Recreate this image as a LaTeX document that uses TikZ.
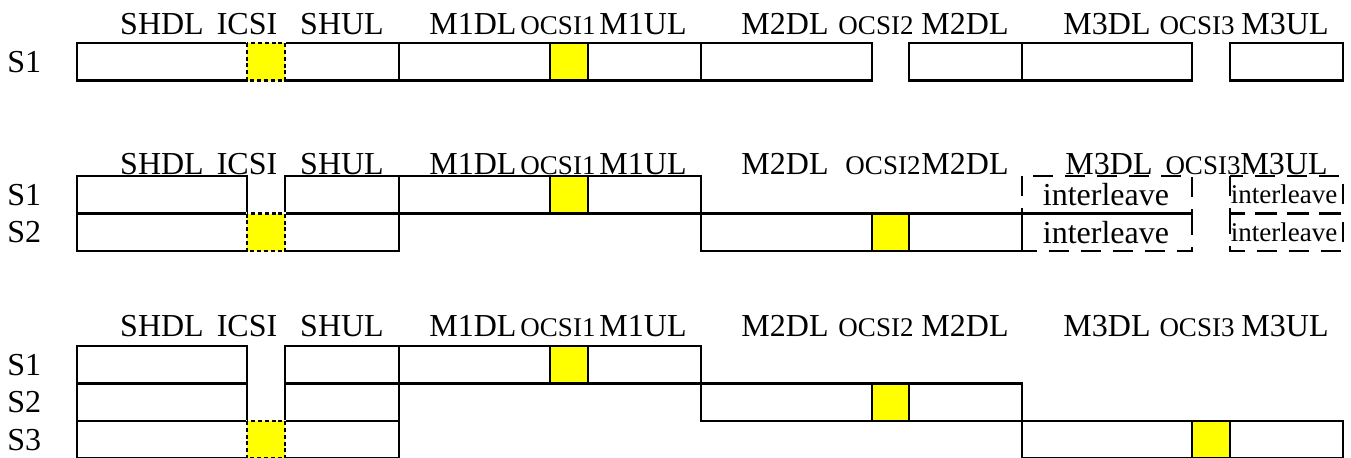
\documentclass[tikz,border=0pt]{standalone}
\usepackage{fontspec}
\setmainfont{Liberation Serif}
\usepackage{tikz}
\usetikzlibrary{math}
\definecolor{CsiYellow}{RGB}{255,255,0}
\tikzset{%
  slot box/.style={draw=black, line width=1.05pt},
  csi box/.style={slot box, fill=CsiYellow},
  icsi box/.style={csi box, line width=1.4pt, dash pattern=on 2pt off 1.4pt,
    preaction={draw=white, solid, line width=1.4pt}},
  ilv box/.style={draw=black, line width=1.05pt, dash pattern=on 10pt off 6pt},
  big text/.style={font=\fontsize{16}{19}\selectfont, inner sep=0pt},
  small text/.style={font=\fontsize{13.5}{16}\selectfont, inner sep=0pt}
}

\begin{document}
\begin{tikzpicture}[x=0.5pt,y=-0.5pt]
    \tikzmath{
      \h=37.5; % row height
      \ya=43; \yb=176; \yc=346; % tops of the three blocks
      \ta=34; \tb=174; \tc=336; % baselines of the headers
    }
    \useasboundingbox (0,0) rectangle (1351,457);
    % headers of blocks one and three
    \foreach \r/\t in {A/\ta, C/\tc} {
      \foreach \s/\x [count=\i] in {SHDL/162, ICSI/247, SHUL/342, M1DL/473, M1UL/643,
          M2DL/785, M2DL/965, M3DL/1107, M3UL/1285} {
        \node[big text, anchor=base] (head\r\i) at (\x,\t) {\s};
      }
      \foreach \s/\x [count=\i] in {OCSI1/558, OCSI2/876, OCSI3/1197} {
        \node[small text, anchor=base] (ocsi\r\i) at (\x,\t) {\s};
      }
    }
    % header of block two
    \foreach \s/\x [count=\i] in {SHDL/162, ICSI/247, SHUL/342, M1DL/473, M1UL/643,
        M2DL/785, M2DL/965, M3DL/1109, M3UL/1284} {
      \node[big text, anchor=base] (headB\i) at (\x,\tb) {\s};
    }
    \foreach \s/\x [count=\i] in {OCSI1/558, OCSI2/883, OCSI3/1203} {
      \node[small text, anchor=base] (ocsiB\i) at (\x,\tb) {\s};
    }

    % block one: a single slot
    \node[big text, anchor=west] (sA1) at (7,\ya+\h/2) {S1};
    \foreach \a/\b in {77/247, 285/399, 399/550, 588/701, 701/872, 909/1022,
        1022/1192, 1230/1343} {
      \draw[slot box] (\a,\ya) rectangle (\b,\ya+\h);
    }
    \draw[csi box] (550,\ya) rectangle (588,\ya+\h);
    \draw[icsi box] (247,\ya) rectangle (285,\ya+\h);

    % block two: two slots
    \foreach \n in {1,2} {
      \node[big text, anchor=west] (sB\n) at (7,\yb+\n*\h-\h/2) {S\n};
    }
    \foreach \a/\b in {77/247, 285/399, 399/550, 588/701} {
      \draw[slot box] (\a,\yb) rectangle (\b,\yb+\h);
    }
    \foreach \a/\b in {77/247, 285/399, 701/872, 909/1022} {
      \draw[slot box] (\a,\yb+\h) rectangle (\b,\yb+2*\h);
    }
    \draw[csi box] (550,\yb) rectangle (588,\yb+\h);
    \draw[csi box] (872,\yb+\h) rectangle (909,\yb+2*\h);
    \draw[icsi box] (247,\yb+\h) rectangle (285,\yb+2*\h);
    \foreach \n in {1,2} {
      \draw[ilv box] (1022,\yb+\n*\h-\h) rectangle (1192,\yb+\n*\h);
      \node[big text] (ilvL\n) at (1106,\yb+\n*\h-\h/2) {interleave};
      \draw[ilv box] (1230,\yb+\n*\h-\h) rectangle (1343,\yb+\n*\h);
      \node[small text] (ilvS\n) at (1284,\yb+\n*\h-\h/2) {interleave};
    }

    % block three: three slots
    \foreach \n in {1,2,3} {
      \node[big text, anchor=west] (sC\n) at (7,\yc+\n*\h-\h/2) {S\n};
    }
    \foreach \a/\b in {77/247, 285/399, 399/550, 588/701} {
      \draw[slot box] (\a,\yc) rectangle (\b,\yc+\h);
    }
    \foreach \a/\b in {77/247, 285/399, 701/872, 909/1022} {
      \draw[slot box] (\a,\yc+\h) rectangle (\b,\yc+2*\h);
    }
    \foreach \a/\b in {77/247, 285/399, 1022/1192, 1230/1343} {
      \draw[slot box] (\a,\yc+2*\h) rectangle (\b,\yc+3*\h);
    }
    \draw[csi box] (550,\yc) rectangle (588,\yc+\h);
    \draw[csi box] (872,\yc+\h) rectangle (909,\yc+2*\h);
    \draw[csi box] (1192,\yc+2*\h) rectangle (1230,\yc+3*\h);
    \draw[icsi box] (247,\yc+2*\h) rectangle (285,\yc+3*\h);
\end{tikzpicture}
\end{document}
